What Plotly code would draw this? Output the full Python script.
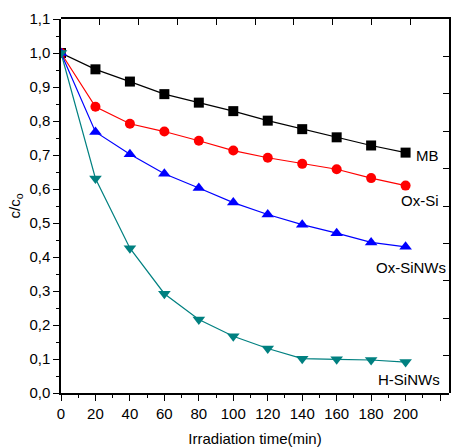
import plotly.graph_objects as go

time_min = [0, 20, 40, 60, 80, 100, 120, 140, 160, 180, 200]
mb = [1.0, 0.952, 0.916, 0.879, 0.854, 0.829, 0.801, 0.776, 0.752, 0.728, 0.707]
ox_si = [1.0, 0.842, 0.792, 0.769, 0.742, 0.713, 0.692, 0.674, 0.658, 0.632, 0.610]
ox_sinws = [1.0, 0.768, 0.702, 0.645, 0.603, 0.560, 0.525, 0.495, 0.470, 0.443, 0.430]
h_sinws = [1.0, 0.631, 0.426, 0.292, 0.216, 0.167, 0.131, 0.101, 0.099, 0.097, 0.091]

series_names = ["MB", "Ox-Si", "Ox-SiNWs", "H-SiNWs"]
series_values = [mb, ox_si, ox_sinws, h_sinws]
colors = ["#000000", "#ff0000", "#0000ff", "#008080"]
symbols = ["square", "circle", "triangle-up", "triangle-down"]
label_x = [427, 420, 411, 409]  # pixel positions of end labels
label_y = [155, 201, 267, 379]

# decorative mirror axes (top / right) span
mirror_range = [0, 1]

FONT = "Liberation Sans, Arial, sans-serif"
FS = 15

fig = go.Figure()
for name, vals, col, sym in zip(series_names, series_values, colors, symbols):
    fig.add_trace(go.Scatter(
        x=time_min, y=vals, mode="lines+markers", name=name,
        line=dict(color=col, width=1.2),
        marker=dict(symbol=sym, size=10 if sym in ("square", "circle") else 11, color=col),
        showlegend=False,
    ))
# invisible trace so the separate top/right frame axes are drawn
fig.add_trace(go.Scatter(x=mirror_range, y=mirror_range, xaxis="x2", yaxis="y2",
                         mode="lines", line=dict(color="rgba(0,0,0,0)"), hoverinfo="skip",
                         showlegend=False))

W, H = 451, 447
ml, mr, mt, mb_ = 61, 2, 19, 54
for name, px, py in zip(series_names, label_x, label_y):
    fig.add_annotation(
        x=(px - ml) / (W - ml - mr), y=1 - (py - mt) / (H - mt - mb_),
        xref="paper", yref="paper", text=name, showarrow=False,
        font=dict(family=FONT, size=FS, color="#000"),
        xanchor="center", yanchor="middle",
    )

axis_common = dict(showline=True, linecolor="#000", linewidth=1.5, showgrid=False,
                   zeroline=False, tickcolor="#000", tickwidth=1.3, automargin=False)

fig.update_layout(
    width=W, height=H,
    margin=dict(l=ml, r=mr, t=mt, b=mb_),
    paper_bgcolor="white", plot_bgcolor="rgba(0,0,0,0)",
    separators=",.",
    font=dict(family=FONT, size=FS, color="#000"),
    xaxis=dict(domain=[0, 1], range=[0, 225.2], tick0=0, dtick=20, ticks="outside", ticklen=6,
               minor=dict(dtick=10, ticks="outside", ticklen=3, tickcolor="#000"),
               title=dict(text="Irradiation time(min)", standoff=17,
                          font=dict(family=FONT, size=FS)),
               tickfont=dict(family=FONT, size=FS), **axis_common),
    yaxis=dict(domain=[0, 1], range=[0, 1.1], tick0=0, dtick=0.1, tickformat=".1f",
               ticks="outside", ticklen=6,
               minor=dict(dtick=0.05, ticks="outside", ticklen=3, tickcolor="#000"),
               title=dict(text="c/c<sub>o</sub>", standoff=5,
                          font=dict(family=FONT, size=FS)),
               tickfont=dict(family=FONT, size=FS), **axis_common),
    xaxis2=dict(domain=[0, 1], side="top", anchor="y2", range=mirror_range, tick0=0, dtick=0.1,
                ticks="inside", ticklen=6, showticklabels=False, **axis_common),
    yaxis2=dict(domain=[0, 1], side="right", anchor="x2", range=mirror_range, tick0=0, dtick=0.1,
                ticks="inside", ticklen=6, showticklabels=False, **axis_common),
)

fig.write_html("out.html", config={"displayModeBar": False})
with open("out.html", encoding="utf-8") as f:
    html = f.read()
html = html.replace("<head>", "<head><style>html,body{margin:0;padding:0;overflow:hidden}</style>", 1)
with open("out.html", "w", encoding="utf-8") as f:
    f.write(html)
